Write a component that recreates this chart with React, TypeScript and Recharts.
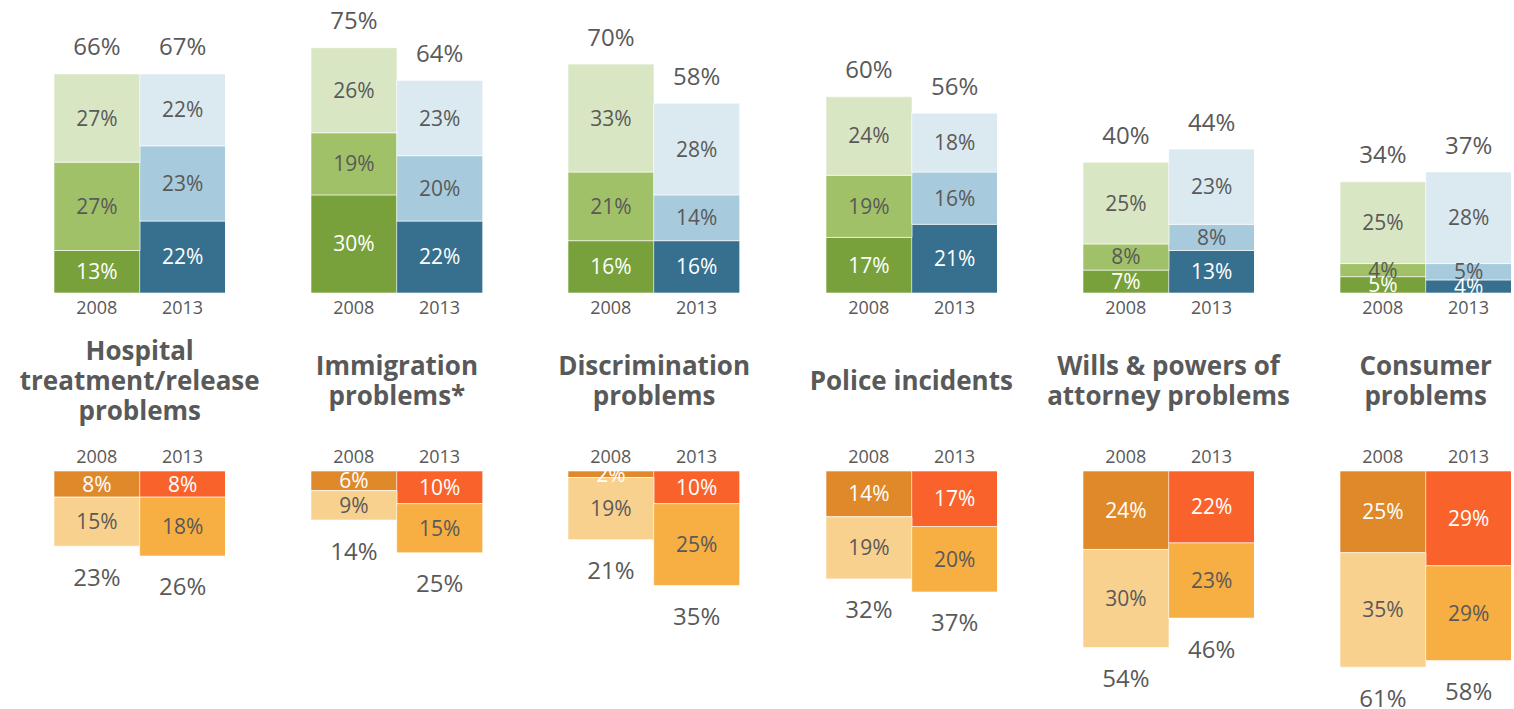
import React from "react";
import { BarChart, Bar, XAxis, YAxis, Cell, LabelList } from "recharts";

const titles: string[][] = [
  ["Hospital", "treatment/release", "problems"],
  ["Immigration", "problems*"],
  ["Discrimination", "problems"],
  ["Police incidents"],
  ["Wills & powers of", "attorney problems"],
  ["Consumer", "problems"],
];
const years = ["2008", "2013"];

// Top (green = 2008, blue = 2013), bottom-to-top segments
const top08Dark = [13, 30, 16, 17, 7, 5];
const top08Mid = [27, 19, 21, 19, 8, 4];
const top08Light = [27, 26, 33, 24, 25, 25];
const top08Total = [66, 75, 70, 60, 40, 34];
const top13Dark = [22, 22, 16, 21, 13, 4];
const top13Mid = [23, 20, 14, 16, 8, 5];
const top13Light = [22, 23, 28, 18, 23, 28];
const top13Total = [67, 64, 58, 56, 44, 37];

// Bottom (orange), top-to-bottom segments
const bot08Dark = [8, 6, 2, 14, 24, 25];
const bot08Light = [15, 9, 19, 19, 30, 35];
const bot08Total = [23, 14, 21, 32, 54, 61];
const bot13Dark = [8, 10, 10, 17, 22, 29];
const bot13Light = [18, 15, 25, 20, 23, 29];
const bot13Total = [26, 25, 35, 37, 46, 58];

const topColors = [
  ["#78A13C", "#A1C168", "#D9E6C4"],
  ["#36708E", "#A7CBDC", "#DBEAF0"],
];
const botColors = [
  ["#E0892B", "#F9D18F"],
  ["#F9632B", "#F7AE42"],
];

const GREY = "#595959";
const PANEL_STEP = 257.2;
const LEFT0 = 54;
const CHART_W = 171.4;

const pct = (v: any) => `${v}%`;

const TotalLabel = (dir: "up" | "down") => (props: any) => {
  const { x, y, width, height, value } = props;
  const top = Math.min(y, y + height);
  const bottom = Math.max(y, y + height);
  const ty = dir === "up" ? top - 28 : bottom + 30;
  return (
    <text
      x={x + width / 2}
      y={ty}
      textAnchor="middle"
      dominantBaseline="central"
      fill={GREY}
      fontSize={24}
    >
      {value}%
    </text>
  );
};

function TopChart({ i }: { i: number }) {
  const data = [
    { year: years[0], s1: top08Dark[i], s2: top08Mid[i], s3: top08Light[i], total: top08Total[i] },
    { year: years[1], s1: top13Dark[i], s2: top13Mid[i], s3: top13Light[i], total: top13Total[i] },
  ];
  const keys = ["s1", "s2", "s3"];
  return (
    <BarChart
      width={CHART_W}
      height={320}
      data={data}
      margin={{ top: 31.4, right: 0, bottom: 0, left: 0 }}
      barCategoryGap={0}
      barGap={0}
    >
      <XAxis
        dataKey="year"
        axisLine={false}
        tickLine={false}
        height={27}
        interval={0}
        tick={{ fill: GREY, fontSize: 18 }}
      />
      <YAxis hide domain={[0, 80]} />
      {keys.map((k, si) => (
        <Bar key={k} dataKey={k} stackId="a" isAnimationActive={false} stroke="#fff" strokeWidth={0.6}>
          {data.map((_, j) => (
            <Cell key={j} fill={topColors[j][si]} />
          ))}
          <LabelList
            dataKey={k}
            position="center"
            formatter={pct}
            fill={si === 0 ? "#fff" : GREY}
            fontSize={21}
          />
          {si === 2 && <LabelList dataKey="total" content={TotalLabel("up")} />}
        </Bar>
      ))}
    </BarChart>
  );
}

function BottomChart({ i }: { i: number }) {
  const data = [
    { year: years[0], s1: bot08Dark[i], s2: bot08Light[i], total: bot08Total[i] },
    { year: years[1], s1: bot13Dark[i], s2: bot13Light[i], total: bot13Total[i] },
  ];
  const keys = ["s1", "s2"];
  return (
    <BarChart
      width={CHART_W}
      height={269}
      data={data}
      margin={{ top: 0, right: 0, bottom: 25.5, left: 0 }}
      barCategoryGap={0}
      barGap={0}
    >
      <XAxis
        dataKey="year"
        orientation="top"
        axisLine={false}
        tickLine={false}
        height={31}
        interval={0}
        tick={{ fill: GREY, fontSize: 18 }}
      />
      <YAxis hide reversed domain={[0, 65]} />
      {keys.map((k, si) => (
        <Bar key={k} dataKey={k} stackId="a" isAnimationActive={false} stroke="#fff" strokeWidth={0.6}>
          {data.map((_, j) => (
            <Cell key={j} fill={botColors[j][si]} />
          ))}
          <LabelList
            dataKey={k}
            position="center"
            formatter={pct}
            fill={si === 0 ? "#fff" : GREY}
            fontSize={21}
          />
          {si === 1 && <LabelList dataKey="total" content={TotalLabel("down")} />}
        </Bar>
      ))}
    </BarChart>
  );
}

export default function App() {
  return (
    <div
      style={{
        position: "absolute",
        left: 0,
        top: 0,
        width: 1514,
        height: 709,
        background: "#fff",
        fontFamily: "'Open Sans', sans-serif",
        overflow: "hidden",
      }}
    >
      {titles.map((t, i) => {
        const left = LEFT0 + i * PANEL_STEP;
        return (
          <React.Fragment key={i}>
            <div style={{ position: "absolute", left, top: 0 }}>
              <TopChart i={i} />
            </div>
            <div
              style={{
                position: "absolute",
                left: left + CHART_W / 2 - 140,
                top: 335,
                width: 280,
                height: 90,
                display: "flex",
                flexDirection: "column",
                justifyContent: "center",
                alignItems: "center",
                color: GREY,
                fontWeight: 700,
                fontSize: 26,
                lineHeight: "30px",
                whiteSpace: "nowrap",
              }}
            >
              {t.map((line, k) => (
                <div key={k}>{line}</div>
              ))}
            </div>
            <div style={{ position: "absolute", left, top: 440 }}>
              <BottomChart i={i} />
            </div>
          </React.Fragment>
        );
      })}
    </div>
  );
}
